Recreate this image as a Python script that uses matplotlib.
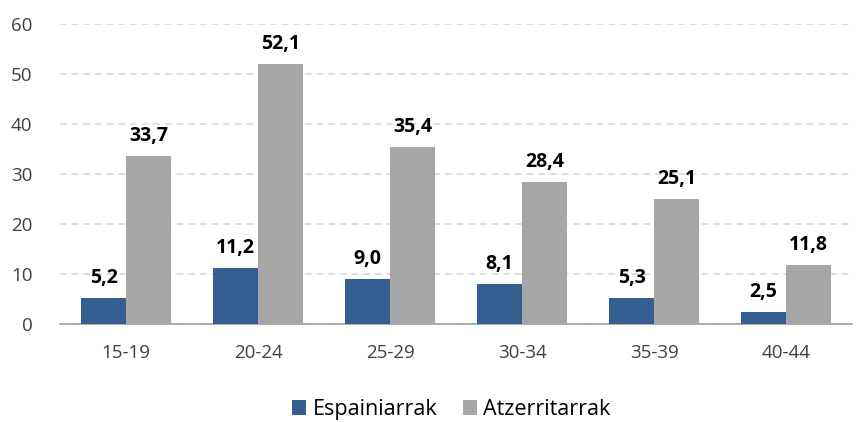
import numpy as np
import matplotlib
matplotlib.use("Agg")
import matplotlib.pyplot as plt

plt.rcParams['font.family'] = ['Open Sans', 'DejaVu Sans']

# datuak
categories = ['15-19', '20-24', '25-29', '30-34', '35-39', '40-44']
espainiarrak = [5.2, 11.2, 9.0, 8.1, 5.3, 2.5]
atzerritarrak = [33.7, 52.1, 35.4, 28.4, 25.1, 11.8]

blue = '#365F91'
grey = '#A6A6A6'

fig = plt.figure(figsize=(8.59, 4.22), dpi=100)
ax = fig.add_axes([0.07, 0.232, 0.922, 0.711])

x = np.arange(len(categories))
w = 0.34
b1 = ax.bar(x - w / 2, espainiarrak, w, color=blue, label='Espainiarrak', zorder=3)
b2 = ax.bar(x + w / 2, atzerritarrak, w, color=grey, label='Atzerritarrak', zorder=3)

def fmt(v):
    return f'{v:.1f}'.replace('.', ',')

for bars, vals in [(b1, espainiarrak), (b2, atzerritarrak)]:
    for r, v in zip(bars, vals):
        ax.annotate(fmt(v), (r.get_x() + r.get_width() / 2, v), xytext=(0, 7),
                    textcoords='offset points', ha='center', va='bottom',
                    fontsize=14, fontweight='bold', color='black')

ax.set_ylim(0, 60)
ax.set_xlim(-0.5, len(categories) - 0.5)
ax.set_yticks(range(0, 61, 10))
ax.set_xticks(x)
ax.set_xticklabels(categories)
ax.yaxis.grid(True, color='#D9D9D9', linestyle=(0, (4, 3)), linewidth=1.2, zorder=0)
ax.tick_params(axis='both', length=0, labelsize=13.5, colors='#404040')
ax.tick_params(axis='x', pad=14)
ax.tick_params(axis='y', pad=20)
for s in ['top', 'right', 'left']:
    ax.spines[s].set_visible(False)
ax.spines['bottom'].set_color('#A0A0A0')
ax.spines['bottom'].set_linewidth(1.2)

ax.legend(loc='lower center', bbox_to_anchor=(0.494, -0.385), ncol=2, frameon=False,
          fontsize=15.5, handlelength=0.65, handleheight=0.65, columnspacing=1.2,
          handletextpad=0.3)

fig.savefig('out.png', dpi=100)
